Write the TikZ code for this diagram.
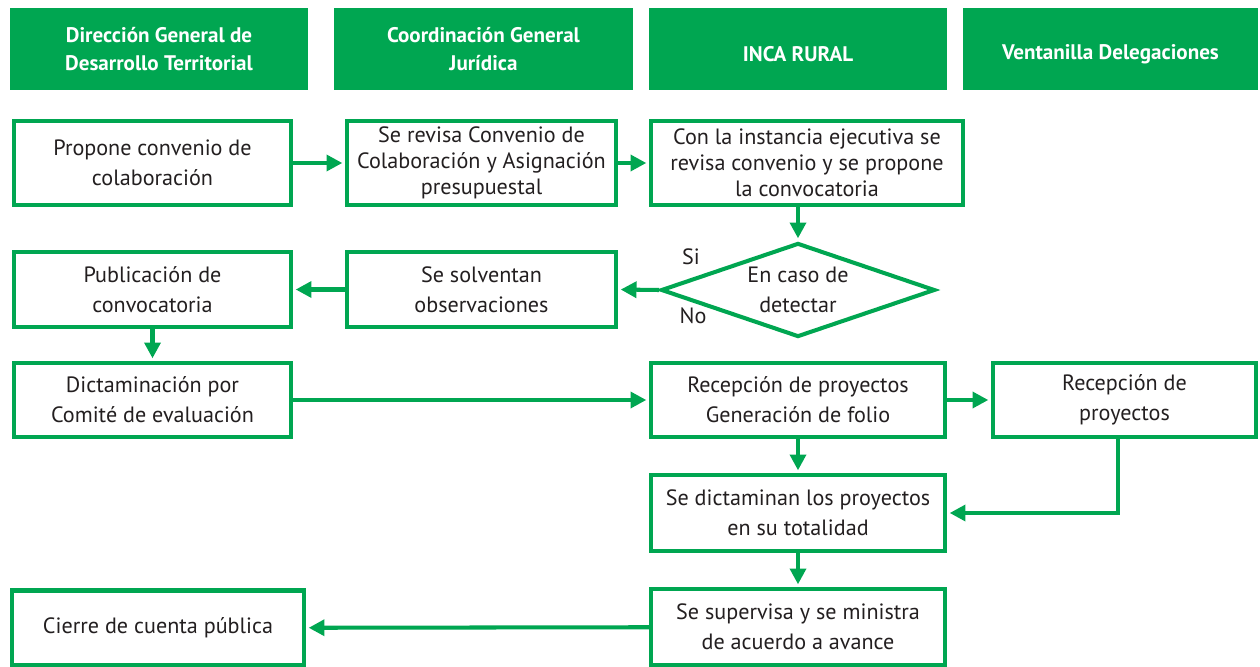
\documentclass[tikz,border=0pt]{standalone}
\usepackage{fontspec}
\setmainfont{PT Sans}
\usepackage{tikz}
\usetikzlibrary{shapes.geometric, arrows.meta, positioning, calc}
\definecolor{mygreen}{RGB}{0,166,81}
\definecolor{mytext}{RGB}{35,31,32}
\tikzset{
  header/.style={rectangle, draw=none, fill=mygreen, text=white,
    align=center, minimum height=1.64cm,
    font=\fontsize{12}{15.6}\selectfont\bfseries},
  block/.style={rectangle, draw=mygreen, fill=white, text=mytext,
    align=center, font=\fontsize{12.6}{17}\selectfont,
    line width=2.3pt, inner sep=2pt},
  tightblock/.style={block, font=\fontsize{12.6}{14.8}\selectfont},
  decision/.style={diamond, draw=mygreen, fill=white, text=mytext,
    align=center, font=\fontsize{12.6}{17}\selectfont,
    line width=2.3pt, aspect=2.84, inner sep=0pt},
  arrow/.style={-{Triangle[length=9pt,width=9pt]}, line width=2.3pt,
    color=mygreen, shorten >=1.5pt},
  lbl/.style={text=mytext, font=\fontsize{12.6}{17}\selectfont}
}

\begin{document}
\begin{tikzpicture}
  \useasboundingbox (0,0) rectangle (25.2,-13.34);

  % Headers
  \node[header, minimum width=5.96cm] (h1) at (3.18,-0.98) {Dirección General de\\Desarrollo Territorial};
  \node[header, minimum width=5.98cm] (h2) at (9.67,-0.98) {Coordinación General\\Jurídica};
  \node[header, minimum width=5.96cm, text height=0.5cm] (h3) at (15.96,-0.98) {INCA RURAL};
  \node[header, minimum width=5.90cm, text height=0.5cm] (h4) at (22.21,-0.98) {Ventanilla Delegaciones};

  % First row
  \node[block, minimum width=5.54cm, minimum height=1.68cm] (propone) at (3.05,-3.26) {Propone convenio de\\colaboración};
  \node[tightblock, minimum width=5.38cm, minimum height=1.68cm] (revisa) at (9.63,-3.26) {Se revisa Convenio de\\Colaboración y Asignación\\presupuestal};
  \node[tightblock, minimum width=6.24cm, minimum height=1.68cm] (instancia) at (16.14,-3.26) {Con la instancia ejecutiva se\\revisa convenio y se propone\\la convocatoria};

  % Second row
  \node[decision, minimum width=5.48cm, minimum height=1.88cm] (detectar) at (15.96,-5.8) {En caso de\\detectar};
  \node[block, minimum width=5.38cm, minimum height=1.50cm] (solventan) at (9.63,-5.79) {Se solventan\\observaciones};
  \node[block, minimum width=5.54cm, minimum height=1.50cm] (publica) at (3.05,-5.79) {Publicación de\\convocatoria};
  \node[lbl] (si) at ([xshift=0.64cm,yshift=0.66cm]detectar.west) {Si};
  \node[lbl] (no) at ([xshift=0.68cm,yshift=-0.52cm]detectar.west) {No};

  % Third row
  \node[block, minimum width=5.54cm, minimum height=1.48cm] (dictamen) at (3.05,-8.0) {Dictaminación por\\Comité de evaluación};
  \node[block, minimum width=5.88cm, minimum height=1.48cm] (folio) at (15.96,-8.0) {Recepción de proyectos\\Generación de folio};
  \node[block, minimum width=5.26cm, minimum height=1.48cm] (recep) at (22.49,-8.0) {Recepción de\\proyectos};

  % Lower rows
  \node[block, minimum width=5.88cm, minimum height=1.52cm] (totalidad) at (15.96,-10.26) {Se dictaminan los proyectos\\en su totalidad};
  \node[block, minimum width=5.88cm, minimum height=1.52cm] (supervisa) at (15.96,-12.54) {Se supervisa y se ministra\\de acuerdo a avance};
  \node[block, minimum width=5.84cm, minimum height=1.50cm] (cierre) at (3.16,-12.56) {Cierre de cuenta pública};

  % Connectors
  \draw[arrow] (propone) -- (revisa);
  \draw[arrow] (revisa) -- (instancia);
  \draw[arrow] (detectar.north |- instancia.south) -- (detectar.north);
  \draw[arrow] (detectar.west) -- (solventan.east);
  \draw[arrow] (solventan) -- (publica);
  \draw[arrow] (publica) -- (dictamen);
  \draw[arrow] (dictamen) -- (folio);
  \draw[arrow] (folio) -- (recep);
  \draw[arrow] (folio) -- (totalidad);
  \draw[arrow] ([xshift=-0.13cm]recep.south) |- (totalidad.east);
  \draw[arrow] (totalidad) -- (supervisa);
  \draw[arrow] (supervisa) -- (cierre);
\end{tikzpicture}
\end{document}
